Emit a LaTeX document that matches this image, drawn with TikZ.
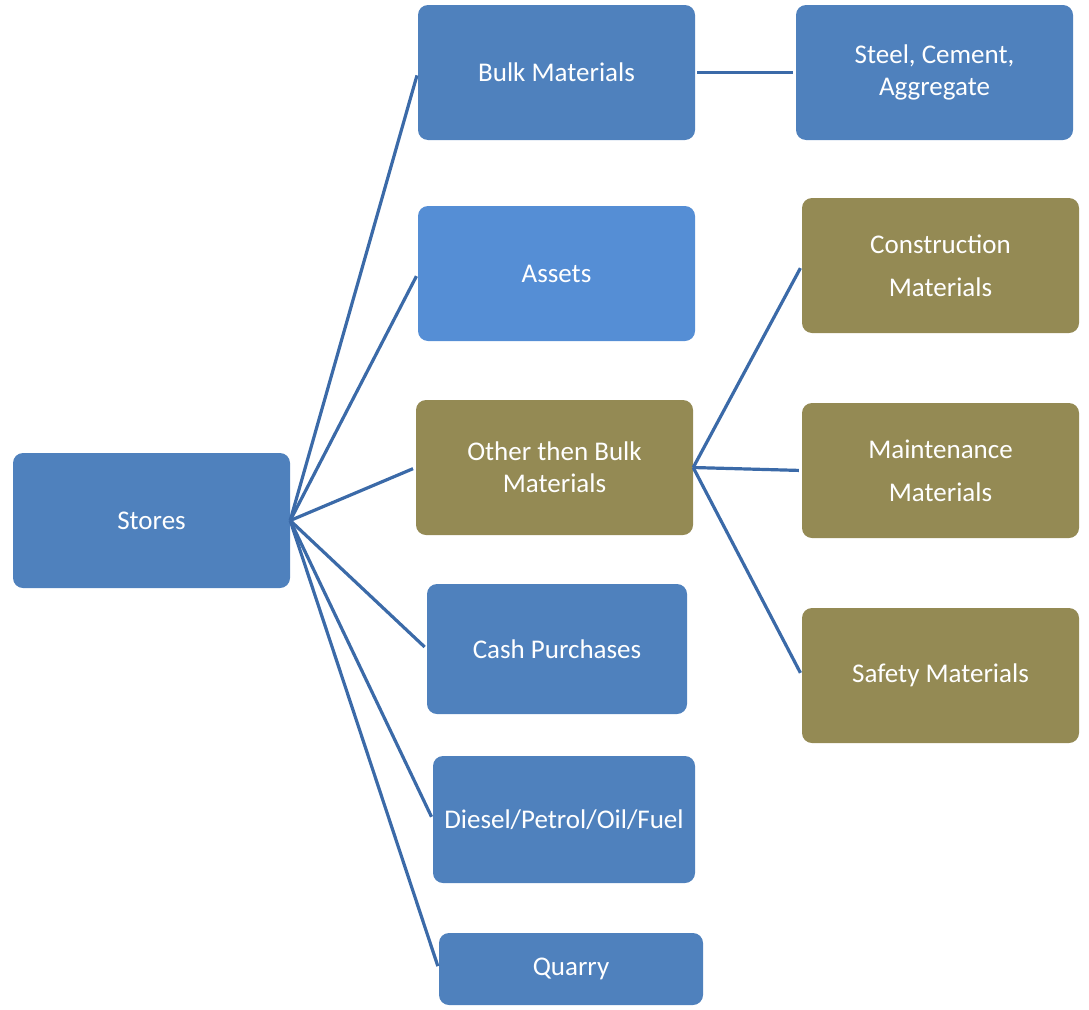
\documentclass[tikz,border=0pt]{standalone}
\usepackage{fontspec}
\setmainfont{Carlito}
\definecolor{boxblue}{HTML}{4F81BD}
\definecolor{boxlight}{HTML}{558ED5}
\definecolor{boxolive}{HTML}{948A54}
\definecolor{linkblue}{HTML}{3B6AA8}
\begin{document}
\begin{tikzpicture}[x=1pt,y=-1pt,
  box/.style={rounded corners=10pt, draw=none, text=white, align=center,
    font=\fontsize{27}{32}\selectfont, inner sep=0pt},
  bluebox/.style={box, fill=boxblue},
  lightbox/.style={box, fill=boxlight},
  olivebox/.style={box, fill=boxolive},
  link/.style={draw=linkblue, line width=3.2pt, shorten >=3pt}]
\useasboundingbox (0,0) rectangle (1089,1009);
\node[bluebox, minimum width=277pt, minimum height=135pt] (stores) at (151.5,520.5) {Stores};
\node[bluebox, minimum width=277pt, minimum height=135pt] (bulk) at (556.5,72.5) {Bulk Materials};
\node[bluebox, minimum width=277pt, minimum height=135pt] (steel) at (934.5,72.5) {Steel, Cement,\\Aggregate};
\node[lightbox, minimum width=277pt, minimum height=135pt] (assets) at (556.5,273.5) {Assets};
\node[olivebox, minimum width=277pt, minimum height=135pt] (other) at (554.5,467.5) {Other then Bulk\\Materials};
\node[olivebox, minimum width=277pt, minimum height=135pt] (constr) at (940.5,265.5) {Construction\\[11pt]Materials};
\node[olivebox, minimum width=277pt, minimum height=135pt] (maint) at (940.5,470.5) {Maintenance\\[11pt]Materials};
\node[olivebox, minimum width=277pt, minimum height=135pt] (safety) at (940.5,675.5) {Safety Materials};
\node[bluebox, minimum width=260pt, minimum height=130pt] (cash) at (557,649) {Cash Purchases};
\node[bluebox, minimum width=262pt, minimum height=127pt] (diesel) at (564,819.5) {Diesel/Petrol/Oil/Fuel};
\node[bluebox, minimum width=264pt, minimum height=72pt] (quarry) at (571,969) {Quarry};
\draw[link] (stores.east) -- (bulk.west);
\draw[link] (stores.east) -- (assets.west);
\draw[link] (stores.east) -- (other.west);
\draw[link] (stores.east) -- (cash.west);
\draw[link] (stores.east) -- (diesel.west);
\draw[link] (stores.east) -- (quarry.west);
\coordinate (bk) at ([xshift=2pt]bulk.east);
\draw[link] (bk) -- (steel.west);
\draw[link] (other.east) -- (constr.west);
\draw[link] (other.east) -- (maint.west);
\draw[link] (other.east) -- (safety.west);
\end{tikzpicture}
\end{document}
